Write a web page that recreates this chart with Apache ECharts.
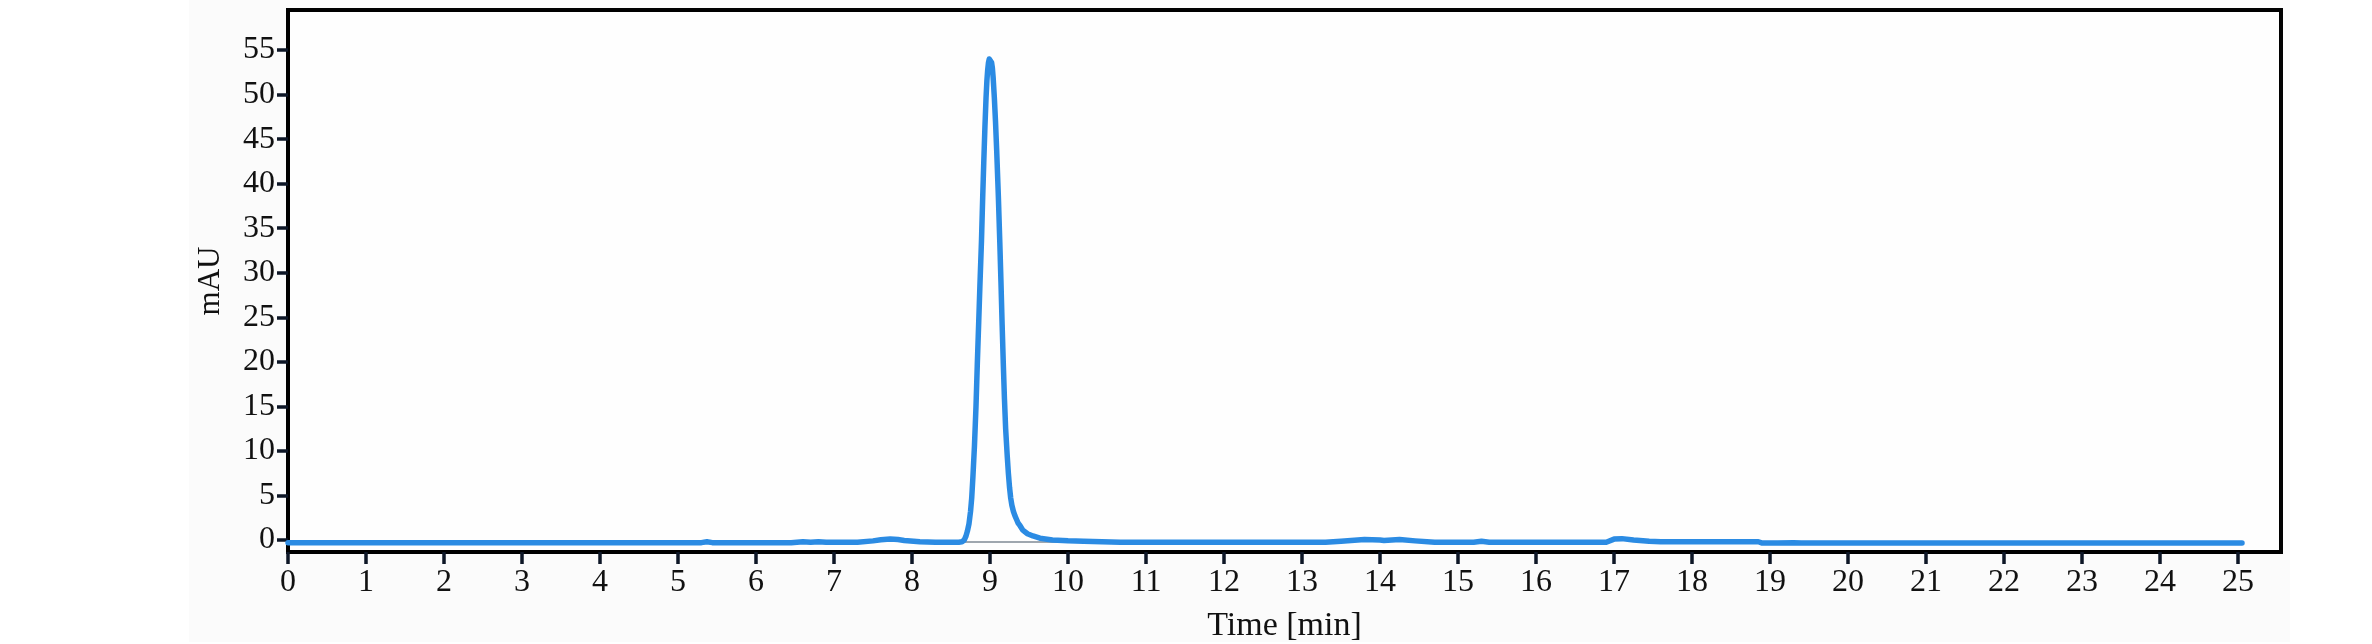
<!DOCTYPE html>
<html>
<head>
<meta charset="utf-8">
<script src="https://cdn.jsdelivr.net/npm/echarts@6/dist/echarts.min.js"></script>
<style>
html,body{margin:0;padding:0;background:#fff;}
#c{width:2372px;height:644px;}
</style>
</head>
<body>
<div id="c"></div>
<script>
// Chromatogram trace (time in min, absorbance in mAU)
var timeMin = [
  0, 5.3, 5.37, 5.44, 6.45, 6.6, 6.7, 6.8, 6.9, 7.3, 7.5, 7.6, 7.72, 7.82, 7.9, 8.1, 8.3, 8.6,
  8.64, 8.67, 8.69, 8.71, 8.73, 8.75, 8.765, 8.78, 8.80, 8.82, 8.837, 8.855, 8.87, 8.89, 8.906,
  8.92, 8.935, 8.949, 8.96, 8.97, 8.98, 8.99, 9.00,
  9.01, 9.02, 9.03, 9.04, 9.055, 9.07, 9.085, 9.107, 9.125, 9.14, 9.155, 9.17, 9.185, 9.20,
  9.22, 9.235, 9.25, 9.265, 9.28, 9.30, 9.32, 9.34, 9.36, 9.385, 9.42,
  9.48, 9.55, 9.64, 9.8, 10.0, 10.2, 10.67,
  13.3, 13.5, 13.8, 14.0, 14.05, 14.25, 14.45, 14.7, 15.2, 15.3, 15.4,
  16.9, 17.0, 17.1, 17.25, 17.45, 17.6, 18.85, 18.9, 19.1, 19.3, 19.4, 25.05
];
var signalMAU = [
  -0.3, -0.3, -0.2, -0.3, -0.3, -0.2, -0.25, -0.2, -0.25, -0.25, -0.1, 0.02, 0.1, 0.05, -0.05, -0.2, -0.25, -0.25,
  -0.2, 0.0, 0.4, 1.0, 1.8, 3.2, 4.7, 7.0, 10.5, 15.0, 19.8, 24.5, 28.5, 33.5, 38.5,
  42.5, 46.5, 49.7, 51.6, 52.8, 53.6, 54.0, 54.1,
  54.0, 53.6, 53.0, 51.9, 49.7, 47.0, 43.8, 38.5, 33.5, 29.0, 24.2, 19.8, 15.8, 12.5,
  9.5, 7.5, 5.9, 4.7, 3.9, 3.2, 2.7, 2.3, 1.9, 1.6, 1.1,
  0.7, 0.45, 0.2, 0.0, -0.1, -0.15, -0.25,
  -0.25, -0.15, 0.05, 0.0, -0.05, 0.05, -0.1, -0.25, -0.25, -0.15, -0.25,
  -0.25, 0.1, 0.15, 0.0, -0.15, -0.2, -0.2, -0.35, -0.35, -0.3, -0.35, -0.35
];
// Integration baseline under the main peak
var baseTime = [8.64, 9.9];
var baseMAU = [-0.22, -0.22];

var xTicks = [0,1,2,3,4,5,6,7,8,9,10,11,12,13,14,15,16,17,18,19,20,21,22,23,24,25];
var yTicks = [0,5,10,15,20,25,30,35,40,45,50,55];

var trace = timeMin.map(function(t, i){ return [t, signalMAU[i]]; });
var baseline = baseTime.map(function(t, i){ return [t, baseMAU[i]]; });

var chart = echarts.init(document.getElementById('c'), null, {renderer:'canvas'});
var fontF = '"Liberation Serif", "DejaVu Serif", serif';
chart.setOption({
  animation: false,
  backgroundColor: '#ffffff',
  graphic: [{
    type: 'rect', z: -10, silent: true,
    shape: {x: 189, y: 0, width: 2101, height: 642},
    style: {fill: '#fbfbfb'}
  }],
  grid: {
    left: 288, right: 91, top: 10, bottom: 92,
    containLabel: false, outerBoundsMode: 'none',
    show: true, borderColor: '#000', borderWidth: 4, backgroundColor: '#fefefe'
  },
  xAxis: {
    type: 'value', min: 0, max: 25.55,
    name: 'Time [min]', nameLocation: 'middle', nameGap: 57,
    nameTextStyle: {fontFamily: fontF, fontSize: 34, color: '#111'},
    axisLine: {show: true, onZero: false, lineStyle: {color: '#000', width: 4}},
    axisTick: {show: true, inside: false, length: 12, customValues: xTicks, lineStyle: {color: '#0d1626', width: 3.5}},
    axisLabel: {show: true, customValues: xTicks, margin: 15, fontFamily: fontF, fontSize: 32, color: '#111'},
    splitLine: {show: false}
  },
  yAxis: {
    type: 'value', min: -1.35, max: 59.5,
    name: 'mAU', nameLocation: 'middle', nameGap: 62, nameRotate: 90,
    nameTextStyle: {fontFamily: fontF, fontSize: 31, color: '#111'},
    axisLine: {show: true, onZero: false, lineStyle: {color: '#000', width: 4}},
    axisTick: {show: true, inside: false, length: 11, customValues: yTicks, lineStyle: {color: '#0d1626', width: 3.5}},
    axisLabel: {show: true, customValues: yTicks, margin: 13, fontFamily: fontF, fontSize: 32, color: '#111'},
    splitLine: {show: false}
  },
  series: [
    {
      type: 'line', data: baseline, symbol: 'none', z: 1,
      lineStyle: {color: '#7f8a94', width: 1.5}
    },
    {
      type: 'line', data: trace, symbol: 'none', smooth: false, z: 2,
      lineStyle: {color: '#2b8be3', width: 5.5, join: 'round', cap: 'round'}
    }
  ]
});
</script>
</body>
</html>
